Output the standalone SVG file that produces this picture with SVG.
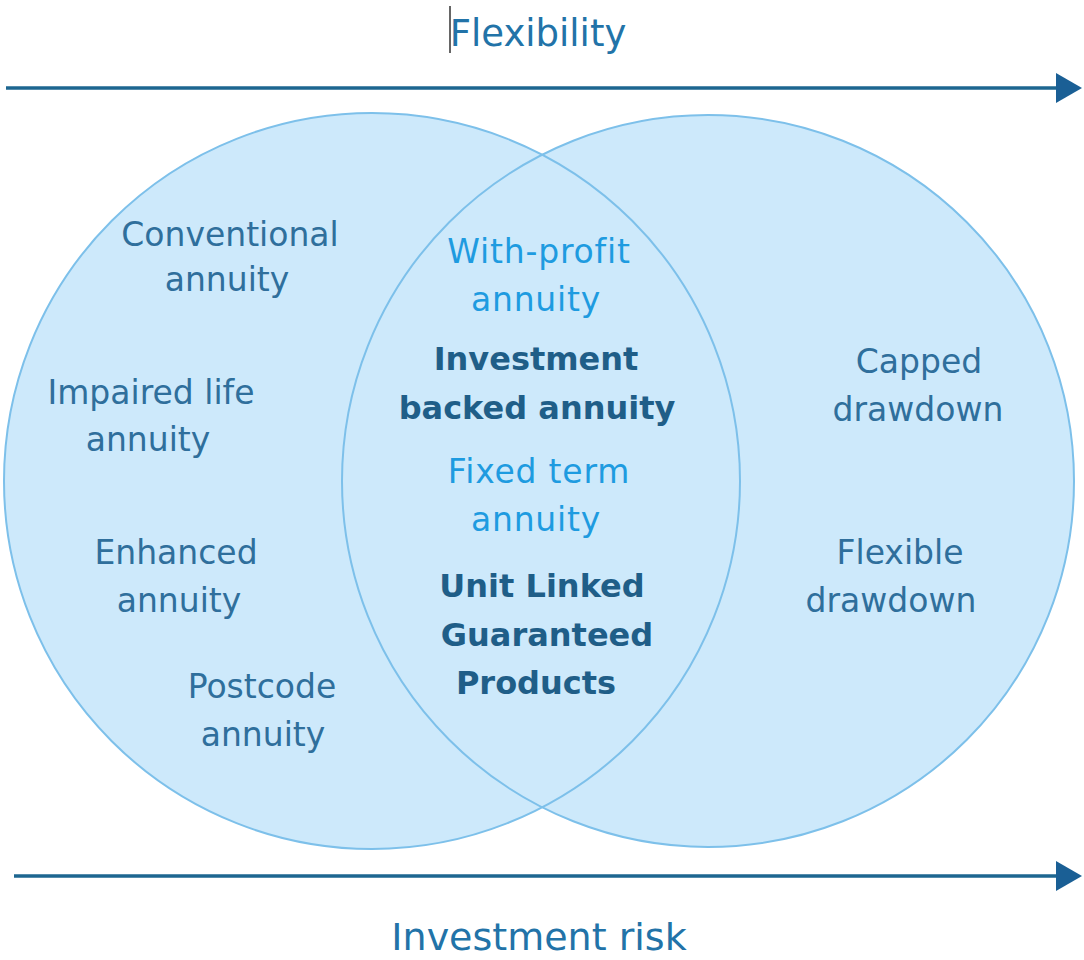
<svg xmlns="http://www.w3.org/2000/svg" width="1084" height="960" viewBox="0 0 1084 960">
<defs>
<style>
.fill{fill:#cde9fb;stroke:none}
.ring{fill:none;stroke:#7dc0ea;stroke-width:2}
.axis{stroke:#1d6690;stroke-width:3.5;fill:none}
text{font-family:"DejaVu Sans","Liberation Sans",sans-serif;text-anchor:middle}
.title{font-size:37px;fill:#2273a8}
.risk{font-size:38px}
.side{font-size:33px;fill:#2f6f9c}
.light{font-size:33px;fill:#1e9be0;letter-spacing:0.8px}
.bold{font-size:32px;font-weight:bold;fill:#1f5e88}
</style>
<marker id="ah" viewBox="0 0 26 30" refX="2" refY="15" markerWidth="26" markerHeight="30" markerUnits="userSpaceOnUse" orient="auto">
<path d="M0,0 L26,15 L0,30 Z" fill="#1a5f95"/>
</marker>
</defs>
<g id="venn">
<circle class="fill" cx="372" cy="481" r="368"/>
<circle class="fill" cx="708" cy="481" r="366"/>
<circle id="circle-left" class="ring" cx="372" cy="481" r="368"/>
<circle id="circle-right" class="ring" cx="708" cy="481" r="366"/>
</g>
<g id="connectors">
<line class="axis" x1="6" y1="88" x2="1058" y2="88" marker-end="url(#ah)"/>
<line class="axis" x1="14" y1="876" x2="1058" y2="876" marker-end="url(#ah)"/>
</g>
<g id="title-flexibility">
<line x1="450" y1="6" x2="450" y2="53" stroke="#333" stroke-width="1.5"/>
<text class="title" x="538" y="46">Flexibility</text>
</g>
<g id="title-risk">
<text class="title risk" x="539" y="950">Investment risk</text>
</g>
<g id="node-conventional">
<text class="side" x="230" y="246">Conventional</text>
<text class="side" x="227" y="291">annuity</text>
</g>
<g id="node-impaired">
<text class="side" x="151" y="404">Impaired life</text>
<text class="side" x="148" y="451">annuity</text>
</g>
<g id="node-enhanced">
<text class="side" x="176" y="564">Enhanced</text>
<text class="side" x="179" y="612">annuity</text>
</g>
<g id="node-postcode">
<text class="side" x="262" y="698">Postcode</text>
<text class="side" x="263" y="746">annuity</text>
</g>
<g id="node-with-profit">
<text class="light" x="539" y="263">With-profit</text>
<text class="light" x="536" y="311">annuity</text>
</g>
<g id="node-investment-backed">
<text class="bold" x="536" y="370">Investment</text>
<text class="bold" x="537" y="419">backed annuity</text>
</g>
<g id="node-fixed-term">
<text class="light" x="539" y="483">Fixed term</text>
<text class="light" x="536" y="531">annuity</text>
</g>
<g id="node-unit-linked">
<text class="bold" x="542" y="597">Unit Linked</text>
<text class="bold" x="547" y="646">Guaranteed</text>
<text class="bold" x="536" y="694">Products</text>
</g>
<g id="node-capped">
<text class="side" x="919" y="373">Capped</text>
<text class="side" x="918" y="421">drawdown</text>
</g>
<g id="node-flexible">
<text class="side" x="900" y="564">Flexible</text>
<text class="side" x="891" y="612">drawdown</text>
</g>
</svg>
